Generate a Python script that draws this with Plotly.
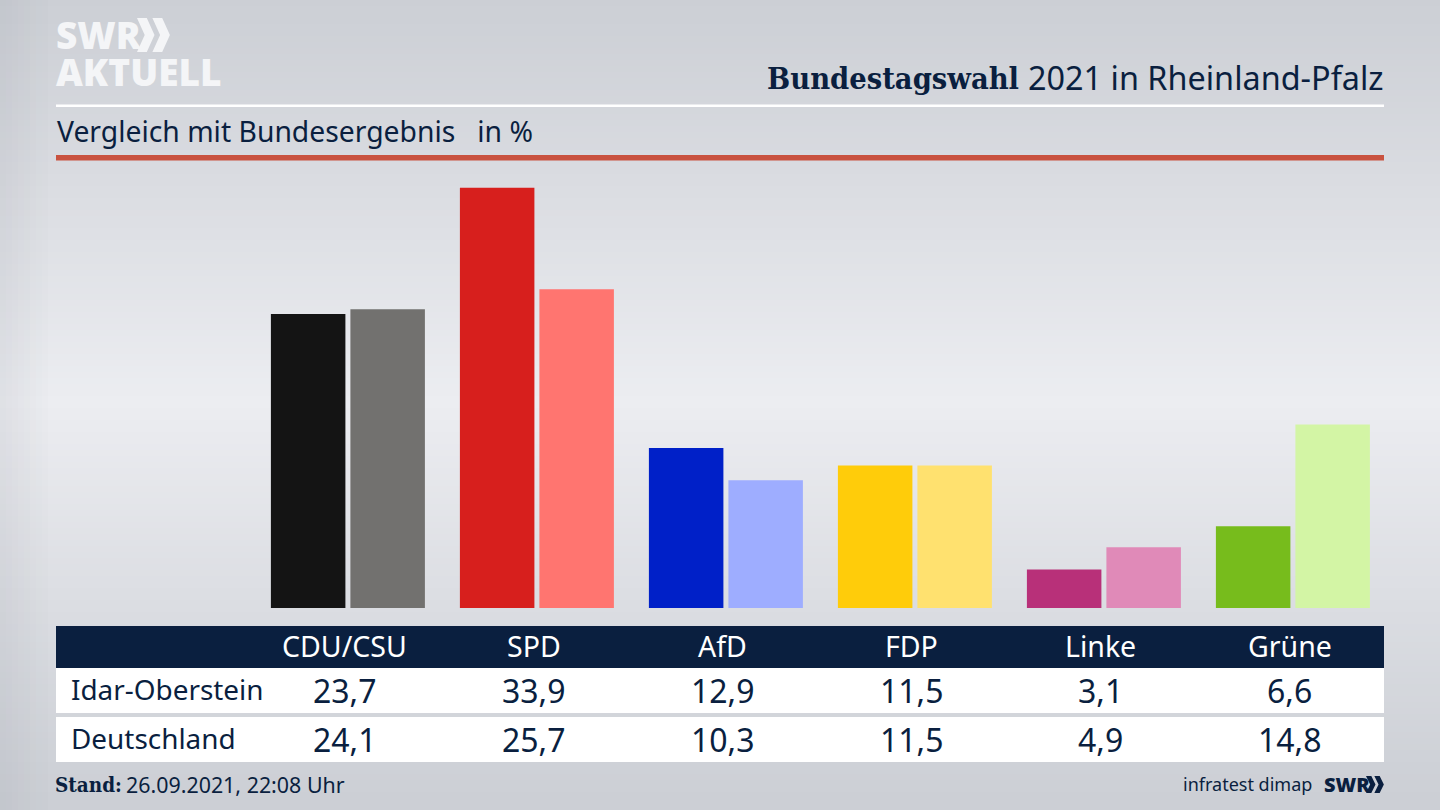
import plotly.graph_objects as go

parties = ["CDU/CSU", "SPD", "AfD", "FDP", "Linke", "Grüne"]
idar = [23.7, 33.9, 12.9, 11.5, 3.1, 6.6]
deutschland = [24.1, 25.7, 10.3, 11.5, 4.9, 14.8]
colors_idar = ["#141414", "#d71f1d", "#0020c8", "#ffcc0a", "#b83079", "#77bc1c"]
colors_de = ["#72716f", "#ff7570", "#9eadff", "#ffe16f", "#e08ab8", "#d3f5a5"]
row_names = ["Idar-Oberstein", "Deutschland"]

NAVY = "#0a1f3f"
FONT = "Noto Sans"
SLAB = "DejaVu Serif Condensed, DejaVu Serif"
W, H = 1440, 810
X = lambda p: p / W
Y = lambda p: 1 - p / H


def rect(x0, y0, x1, y1, color, layer="below"):
    return dict(type="rect", xref="paper", yref="paper", x0=X(x0), x1=X(x1), y0=Y(y0), y1=Y(y1),
                fillcolor=color, line_width=0, layer=layer)


def poly(points, color):
    d = "M" + " L".join(f"{X(a):.5f},{Y(b):.5f}" for a, b in points) + " Z"
    return dict(type="path", xref="paper", yref="paper", path=d, fillcolor=color, line_width=0, layer="below")


def chevrons(x, top, h, w, color):
    out = []
    for k in range(2):
        x0 = x + k * w * 0.88
        t = w * 0.56
        out.append(poly([(x0, top), (x0 + t, top), (x0 + w, top + h / 2), (x0 + t, top + h), (x0, top + h),
                         (x0 + w - t, top + h / 2)], color))
    return out


def text(px, py, s, size, color=NAVY, anchor="left", weight=None, font=FONT):
    f = dict(family=font, size=size, color=color)
    if weight:
        f["weight"] = weight
    return dict(xref="paper", yref="paper", x=X(px), y=Y(py), text=s, showarrow=False,
                xanchor=anchor, yanchor="middle", font=f)


fig = go.Figure()
fig.add_bar(x=parties, y=idar, marker=dict(color=colors_idar, line_width=0), name=row_names[0])
fig.add_bar(x=parties, y=deutschland, marker=dict(color=colors_de, line_width=0), name=row_names[1])

# background: soft vertical gradient with darker top and bottom, slightly darker left edge
top, mid = (204, 207, 213), (236, 237, 241)
shapes = []
for py in range(0, H, 6):
    t = max(0, 1 - abs(py + 3 - 400) / 400) ** 1.05
    c = tuple(round(a + (b - a) * t) for a, b in zip(top, mid))
    shapes.append(rect(0, py, W, py + 6, "rgb(%d,%d,%d)" % c))
for px in range(0, 48, 6):
    shapes.append(rect(px, 0, px + 6, H, "rgba(140,145,155,%.3f)" % (0.13 * (1 - px / 48))))

shapes += [
    rect(56, 104.5, 1384, 107, "#ffffff"),
    rect(56, 155, 1384, 160.5, "#c9523f"),
    rect(56, 626, 1384, 668, NAVY),
    rect(56, 668, 1384, 713, "#ffffff"),
    rect(56, 717, 1384, 762, "#ffffff"),
]
shapes += chevrons(137, 18, 34, 17.5, "#f4f5f7")
shapes += chevrons(1366, 776, 17, 9.5, NAVY)

ann = [
    text(53.5, 35, "SWR", 37, "#f4f5f7", weight=800, font="Open Sans"),
    text(53.5, 71, "AKTUELL", 37, "#f4f5f7", weight=800, font="Open Sans"),
    text(1021, 78, "Bundestagswahl", 30.5, anchor="right", weight=700, font=SLAB),
    text(1386, 77, "2021 in Rheinland-Pfalz", 32.4, anchor="right"),
    text(55, 131, "Vergleich mit Bundesergebnis&nbsp;&nbsp;&nbsp;in %", 28.3),
    text(69, 689, row_names[0], 27.9),
    text(69, 738, row_names[1], 27.9),
    text(124, 784, "26.09.2021, 22:08 Uhr", 21.4, anchor="left"),
    text(123.5, 785, "Stand:", 20.5, anchor="right", weight=700, font=SLAB),
    text(1314, 784, "infratest dimap", 18, anchor="right"),
    text(1322, 784, "SWR", 20, weight=800, font="Open Sans"),
]
for i, p in enumerate(parties):
    cx = 344.5 + 189 * i
    ann.append(text(cx, 646, p, 28.5, "#ffffff", "center"))
    ann.append(text(cx, 690, f"{idar[i]:.1f}".replace(".", ","), 32, anchor="center"))
    ann.append(text(cx, 739, f"{deutschland[i]:.1f}".replace(".", ","), 32, anchor="center"))

fig.update_layout(
    width=W, height=H, margin=dict(l=0, r=0, t=0, b=0, autoexpand=False),
    showlegend=False, barmode="group", bargap=0.1587, bargroupgap=0.063,
    paper_bgcolor="#e4e6ea", plot_bgcolor="rgba(0,0,0,0)",
    xaxis=dict(visible=False, type="category", range=[(0 - 347.9) / 189, (1440 - 347.9) / 189]),
    yaxis=dict(visible=False, range=[-(810 - 608) / 12.4, 608 / 12.4]),
    shapes=shapes, annotations=ann,
)
fig.write_html("out.html", config={"displayModeBar": False},
               post_script="document.body.style.margin='0';document.body.style.overflow='hidden';")
